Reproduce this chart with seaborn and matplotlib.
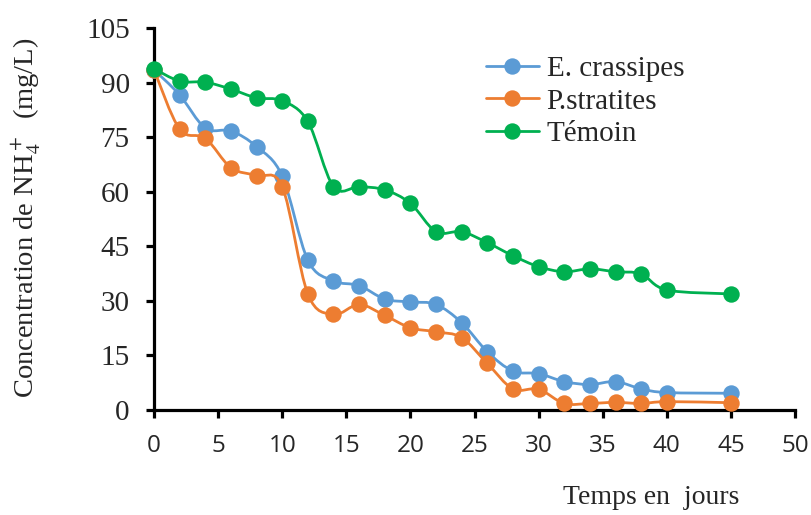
import numpy as np
import pandas as pd
import matplotlib
matplotlib.use("Agg")
import matplotlib.pyplot as plt
from matplotlib.path import Path
from matplotlib.patches import PathPatch
from matplotlib.lines import Line2D
import seaborn as sns

# ---- data ----
days = [0, 2, 4, 6, 8, 10, 12, 14, 16, 18, 20, 22, 24, 26, 28, 30, 32, 34, 36, 38, 40, 45]
e_crassipes = [93.5, 86.6, 77.5, 76.7, 72.4, 64.3, 41.2, 35.5, 34.2, 30.5, 29.7, 29.0, 24.0, 16.0,
               10.7, 10.0, 7.8, 7.0, 7.8, 5.8, 4.8, 4.6]
p_stratites = [93.5, 77.2, 74.7, 66.6, 64.4, 61.4, 31.9, 26.3, 29.0, 26.0, 22.6, 21.5, 19.9, 12.8,
               5.8, 5.7, 1.8, 1.8, 2.1, 1.8, 2.3, 2.0]
temoin = [93.8, 90.4, 90.1, 88.2, 85.8, 85.0, 79.3, 61.4, 61.4, 60.5, 56.8, 49.0, 49.0, 46.0,
          42.4, 39.4, 38.0, 38.8, 38.0, 37.4, 33.0, 31.9]
series_names = ["E. crassipes", "P.stratites", "Témoin"]
series_values = [e_crassipes, p_stratites, temoin]
colors = ["#5B9BD5", "#ED7D31", "#00B050"]
y_ticks = [0, 15, 30, 45, 60, 75, 90, 105]
x_ticks = [0, 5, 10, 15, 20, 25, 30, 35, 40, 45, 50]

df = pd.DataFrame({
    "day": days * 3,
    "value": e_crassipes + p_stratites + temoin,
    "series": sum([[n] * len(days) for n in series_names], []),
})

sns.set_theme(style="white")
plt.rcParams["font.family"] = ["Liberation Serif", "DejaVu Serif"]
plt.rcParams["mathtext.fontset"] = "stix"

fig = plt.figure(figsize=(8.11, 5.15), dpi=100)
ax = fig.add_axes([154 / 811, 1 - 410 / 515, (795 - 154) / 811, (410 - 28) / 515])


def smooth_path(x, y):
    """Excel-like smoothed line: cubic Bezier segments (Catmull-Rom control points)."""
    x = np.asarray(x, float)
    y = np.asarray(y, float)
    n = len(x)
    verts = [(x[0], y[0])]
    codes = [Path.MOVETO]
    for i in range(n - 1):
        i0 = max(i - 1, 0)
        i3 = min(i + 2, n - 1)
        c1 = (x[i] + (x[i + 1] - x[i0]) / 6, y[i] + (y[i + 1] - y[i0]) / 6)
        c2 = (x[i + 1] - (x[i3] - x[i]) / 6, y[i + 1] - (y[i3] - y[i]) / 6)
        verts += [c1, c2, (x[i + 1], y[i + 1])]
        codes += [Path.CURVE4] * 3
    return Path(verts, codes)


for k, (name, vals, col) in enumerate(zip(series_names, series_values, colors)):
    patch = PathPatch(smooth_path(days, vals), facecolor="none", edgecolor=col,
                      lw=2.0, zorder=3 + 2 * k, clip_on=False, capstyle="round")
    ax.add_patch(patch)
    sub = df[df["series"] == name]
    sns.scatterplot(data=sub, x="day", y="value", color=col, s=140, linewidth=0,
                    ax=ax, zorder=4 + 2 * k, clip_on=False, legend=False)

ax.set_xlim(0, 50)
ax.set_ylim(0, 105)
ax.set_xticks(x_ticks)
ax.set_yticks(y_ticks)
ax.set_xlabel("")
ax.set_ylabel("")

for s in ["top", "right"]:
    ax.spines[s].set_visible(False)
for s in ["left", "bottom"]:
    ax.spines[s].set_color("black")
    ax.spines[s].set_linewidth(2.3)

ax.tick_params(axis="y", direction="out", length=5.5, width=2.3, color="black",
               labelsize=21, pad=12, left=True)
ax.tick_params(axis="x", direction="out", length=6, width=2.3, color="black",
               labelsize=17.5, pad=11, bottom=True)
for lab in ax.get_xticklabels():
    lab.set_fontfamily(["Open Sans", "DejaVu Sans"])

fig.text(26 / 811, 1 - 218 / 515, r"Concentration de NH$_4^+$  (mg/L)", rotation=90,
         ha="center", va="center", fontsize=20.5)
fig.text(651 / 811, 1 - 497 / 515, "Temps en  jours", ha="center", va="center", fontsize=20)

handles = [Line2D([0], [0], color=c, lw=2.0, marker="o", markersize=11.8, markeredgewidth=0)
           for c in colors]
ax.legend(handles, series_names, loc="upper left", bbox_to_anchor=(486 / 811, 1 - 56 / 515),
          bbox_transform=fig.transFigure, frameon=False, fontsize=21, handlelength=1.8,
          handletextpad=0.28, labelspacing=0.2, borderaxespad=0, borderpad=0)

fig.savefig("out.png", dpi=100)
